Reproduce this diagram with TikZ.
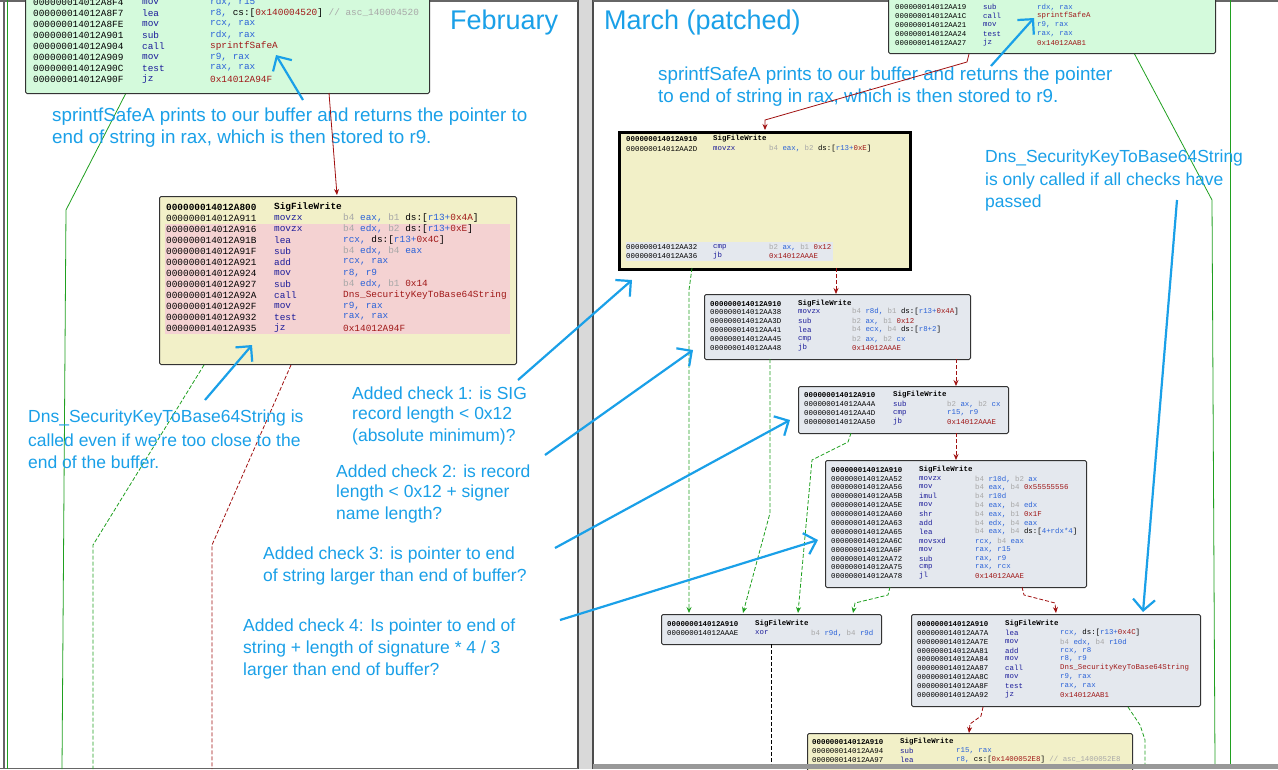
\documentclass[tikz,border=0pt]{standalone}
\usepackage{fontspec}
\setmainfont{Liberation Sans}
\newfontfamily\codef{Liberation Mono}
\usetikzlibrary{arrows.meta}
\definecolor{cgray}{HTML}{A8A8A8}
\definecolor{cred}{HTML}{A01818}
\definecolor{cmn}{HTML}{1C1C9A}
\definecolor{cop}{HTML}{2A62D8}
\definecolor{ann}{HTML}{1AA0E8}
\definecolor{fgreen}{HTML}{D4FADC}
\definecolor{fyellow}{HTML}{F2F0C8}
\definecolor{fgrayb}{HTML}{E4E8EE}
\definecolor{fpink}{HTML}{F4D2D2}
\definecolor{lgreen}{HTML}{20A020}
\definecolor{lred}{HTML}{A01010}
\newcommand\G[1]{\textcolor{cgray}{#1}}
\newcommand\R[1]{\textcolor{cred}{#1}}
\newcommand\K[1]{\textcolor{black}{#1}}
\def\codefont{\codef\fontsize{9.4}{10}\selectfont}
\newcommand\clrow[4]{\node[code,text=black] at (\xa,#1) {#2};\node[code,text=cmn] at (\xb,#1) {#3};\node[code,text=cop] at (\xc,#1) {#4};}
\newcommand\clhead[3]{\node[code,text=black,font=\codefont\bfseries] at (\xa,#1) {#2};\node[code,text=black,font=\codefont\bfseries] at (\xb,#1) {#3};}
\begin{document}
\begin{tikzpicture}[x=1pt,y=-1pt,
  code/.style={anchor=west,inner sep=0pt,font=\codefont},
  blk/.style={draw=black!80,line width=1pt,rounded corners=1.5pt},
  annot/.style={anchor=west,inner sep=0pt,text=ann,font=\fontsize{17.5}{20}\selectfont},
  bigannot/.style={annot,font=\fontsize{18.8}{21}\selectfont},
  barrow/.style={draw=ann,line width=2.2pt,-{Straight Barb[length=11pt,width=22pt]}},
  gl/.style={draw=lgreen,line width=0.8pt},
  gd/.style={draw=lgreen,line width=0.8pt,dash pattern=on 4pt off 2pt,-{Stealth[length=6pt,width=5pt]}},
  rd/.style={draw=lred,line width=0.8pt,dash pattern=on 4pt off 2pt,-{Stealth[length=6pt,width=5pt]}},
  rl/.style={draw=lred,line width=0.8pt,-{Stealth[length=6pt,width=5pt]}}]
\useasboundingbox (0,0) rectangle (1278,769);
\clip (0,0) rectangle (1278,769);
\fill[white] (0,0) rectangle (1278,769);
% panel frames
\fill[black!15] (578,0) rectangle (593,769);
\draw[black!70,line width=1.2pt] (578,0) -- (578,769) (593,0) -- (593,769);
\draw[black!60,line width=2pt] (0,1) -- (578,1) (593,1)--(1278,1);
\draw[black!60,line width=1.5pt] (4,0) -- (4,769);
\draw[black!60,line width=1pt] (0,768) -- (578,768);
%================ FEBRUARY =================
\draw[gl] (7,0) -- (7,769);
\draw[gl] (126,93) -- (66,210) -- (62,769);
\node[blk,fill=fgreen,minimum width=404pt,minimum height=103pt,anchor=north west] (fa) at (25,-10) {};
\def\xa{33}\def\xb{142}\def\xc{210}
\clrow{2}{000000014012A8F4}{mov}{rdx, r15}
\clrow{13}{000000014012A8F7}{lea}{r8, \K{cs:[}\R{0x140004520}\K{]} \G{// asc\_140004520}}
\clrow{24}{000000014012A8FE}{mov}{rcx, rax}
\clrow{35}{000000014012A901}{sub}{rdx, rax}
\clrow{46}{000000014012A904}{call}{\R{sprintfSafeA}}
\clrow{57}{000000014012A909}{mov}{r9, rax}
\clrow{68}{000000014012A90C}{test}{rax, rax}
\clrow{79}{000000014012A90F}{jz}{\R{0x14012A94F}}
\node[annot,font=\fontsize{27}{29}\selectfont] (feb) at (450,23) {February};
\node[bigannot] (fn1) at (52,117) {sprintfSafeA prints to our buffer and returns the pointer to};
\node[bigannot] (fn2) at (52,139) {end of string in rax, which is then stored to r9.};
\node[blk,fill=fyellow,minimum width=357pt,minimum height=168pt,anchor=north west] (fb) at (159,196) {};
\fill[fpink] (165,224) rectangle (510,334);
\draw[rl] (329,93) -- (337,195);
\def\xa{166}\def\xb{274}\def\xc{343}
\clhead{207}{000000014012A800}{SigFileWrite}
\clrow{218}{000000014012A911}{movzx}{\G{b4} eax, \G{b1} \K{ds:[}r13+\R{0x4A}\K{]}}
\clrow{229}{000000014012A916}{movzx}{\G{b4} edx, \G{b2} \K{ds:[}r13+\R{0xE}\K{]}}
\clrow{240}{000000014012A91B}{lea}{rcx, \K{ds:[}r13+\R{0x4C}\K{]}}
\clrow{251}{000000014012A91F}{sub}{\G{b4} edx, \G{b4} eax}
\clrow{262}{000000014012A921}{add}{rcx, rax}
\clrow{273}{000000014012A924}{mov}{r8, r9}
\clrow{284}{000000014012A927}{sub}{\G{b4} edx, \G{b1} \R{0x14}}
\clrow{295}{000000014012A92A}{call}{\R{Dns\_SecurityKeyToBase64String}}
\clrow{306}{000000014012A92F}{mov}{r9, rax}
\clrow{317}{000000014012A932}{test}{rax, rax}
\clrow{328}{000000014012A935}{jz}{\R{0x14012A94F}}
\draw[gd,-] (204,365) -- (93,545) -- (93,769);
\draw[rd,-] (291,365) -- (212,545) -- (212,769);
\draw[barrow] (303,100) -- (276,55);
\draw[barrow] (205,400) -- (252,345);
\node[annot] (fd1) at (28,418) {Dns\_SecurityKeyToBase64String is};
\node[annot] (fd2) at (28,440) {called even if we're too close to the};
\node[annot] (fd3) at (28,462) {end of the buffer.};
%================ MARCH =================
\draw[gl] (1230,0) -- (1230,764);
\draw[gl] (1134,53) -- (1212,200) -- (1215,764);
\node[annot,font=\fontsize{27}{29}\selectfont] (mar) at (604,23) {March (patched)};
\def\codefont{\codef\fontsize{7.4}{8}\selectfont}
\node[blk,fill=fgreen,minimum width=327pt,minimum height=63pt,anchor=north west] (ma) at (888,-10) {};
\def\xa{895}\def\xb{983}\def\xc{1037}
\clrow{7}{000000014012AA19}{sub}{rdx, rax}
\clrow{16}{000000014012AA1C}{call}{\R{sprintfSafeA}}
\clrow{25}{000000014012AA21}{mov}{r9, rax}
\clrow{34}{000000014012AA24}{test}{rax, rax}
\clrow{43}{000000014012AA27}{jz}{\R{0x14012AAB1}}
\node[bigannot] (mn1) at (658,76) {sprintfSafeA prints to our buffer and returns the pointer};
\node[bigannot] (mn2) at (658,98) {to end of string in rax, which is then stored to r9.};
\draw[rl] (969,54) -- (967,62) -- (765,120) -- (765,130);
\draw[barrow] (991,66) -- (1034,18);
% big block
\node[draw=black,line width=2.6pt,fill=fyellow,minimum width=291pt,minimum height=137pt,anchor=north west] (mb) at (618,131) {};
\fill[fgrayb] (626,242) rectangle (833,261);
\def\xa{626}\def\xb{713}\def\xc{769}
\clhead{139}{000000014012A910}{SigFileWrite}
\clrow{149}{000000014012AA2D}{movzx}{\G{b4} eax, \G{b2} \K{ds:[}r13+\R{0xE}\K{]}}
\clrow{247}{000000014012AA32}{cmp}{\G{b2} ax, \G{b1} \R{0x12}}
\clrow{256}{000000014012AA36}{jb}{\R{0x14012AAAE}}
\node[annot] (md1) at (985,158) {Dns\_SecurityKeyToBase64String};
\node[annot] (md2) at (985,181) {is only called if all checks have};
\node[annot] (md3) at (985,203) {passed};
% block 2
\node[blk,fill=fgrayb,minimum width=266pt,minimum height=65pt,anchor=north west] (m2) at (704,294) {};
\def\xa{710}\def\xb{798}\def\xc{852}
\clhead{304}{000000014012A910}{SigFileWrite}
\clrow{312}{000000014012AA38}{movzx}{\G{b4} r8d, \G{b1} \K{ds:[}r13+\R{0x4A}\K{]}}
\clrow{321}{000000014012AA3D}{sub}{\G{b2} ax, \G{b1} \R{0x12}}
\clrow{330}{000000014012AA41}{lea}{\G{b4} ecx, \G{b4} \K{ds:[}r8+2\K{]}}
\clrow{339}{000000014012AA45}{cmp}{\G{b2} ax, \G{b2} cx}
\clrow{348}{000000014012AA48}{jb}{\R{0x14012AAAE}}
% block 3
\node[blk,fill=fgrayb,minimum width=210pt,minimum height=47pt,anchor=north west] (m3) at (798,386) {};
\def\xa{804}\def\xb{893}\def\xc{947}
\clhead{395}{000000014012A910}{SigFileWrite}
\clrow{404}{000000014012AA4A}{sub}{\G{b2} ax, \G{b2} cx}
\clrow{413}{000000014012AA4D}{cmp}{r15, r9}
\clrow{422}{000000014012AA50}{jb}{\R{0x14012AAAE}}
% block 4
\node[blk,fill=fgrayb,minimum width=261pt,minimum height=127pt,anchor=north west] (m4) at (825,460) {};
\def\xa{831}\def\xb{919}\def\xc{975}
\clhead{470}{000000014012A910}{SigFileWrite}
\clrow{479}{000000014012AA52}{movzx}{\G{b4} r10d, \G{b2} ax}
\clrow{487}{000000014012AA56}{mov}{\G{b4} eax, \G{b4} \R{0x55555556}}
\clrow{496}{000000014012AA5B}{imul}{\G{b4} r10d}
\clrow{505}{000000014012AA5E}{mov}{\G{b4} eax, \G{b4} edx}
\clrow{514}{000000014012AA60}{shr}{\G{b4} eax, \G{b1} \R{0x1F}}
\clrow{523}{000000014012AA63}{add}{\G{b4} edx, \G{b4} eax}
\clrow{532}{000000014012AA65}{lea}{\G{b4} eax, \G{b4} \K{ds:[}4+rdx*4\K{]}}
\clrow{541}{000000014012AA6C}{movsxd}{rcx, \G{b4} eax}
\clrow{550}{000000014012AA6F}{mov}{rax, r15}
\clrow{559}{000000014012AA72}{sub}{rax, r9}
\clrow{567}{000000014012AA75}{cmp}{rax, rcx}
\clrow{576}{000000014012AA78}{jl}{\R{0x14012AAAE}}
% block 5
\node[blk,fill=fgrayb,minimum width=220pt,minimum height=30pt,anchor=north west] (m5) at (661,614) {};
\def\xa{667}\def\xb{755}\def\xc{811}
\clhead{624}{000000014012A910}{SigFileWrite}
\clrow{633}{000000014012AAAE}{xor}{\G{b4} r9d, \G{b4} r9d}
% block 6
\node[blk,fill=fgrayb,minimum width=289pt,minimum height=92pt,anchor=north west] (m6) at (911,614) {};
\def\xa{917}\def\xb{1005}\def\xc{1060}
\clhead{624}{000000014012A910}{SigFileWrite}
\clrow{633}{000000014012AA7A}{lea}{rcx, \K{ds:[}r13+\R{0x4C}\K{]}}
\clrow{642}{000000014012AA7E}{mov}{\G{b4} edx, \G{b4} r10d}
\clrow{651}{000000014012AA81}{add}{rcx, r8}
\clrow{659}{000000014012AA84}{mov}{r8, r9}
\clrow{668}{000000014012AA87}{call}{\R{Dns\_SecurityKeyToBase64String}}
\clrow{677}{000000014012AA8C}{mov}{r9, rax}
\clrow{686}{000000014012AA8F}{test}{rax, rax}
\clrow{695}{000000014012AA92}{jz}{\R{0x14012AAB1}}
% block 7
\node[blk,fill=fyellow,minimum width=325pt,minimum height=60pt,anchor=north west] (m7) at (807,733) {};
\def\xa{812}\def\xb{900}\def\xc{956}
\clhead{742}{000000014012A910}{SigFileWrite}
\clrow{751}{000000014012AA94}{sub}{r15, rax}
\clrow{760}{000000014012AA97}{lea}{r8, \K{cs:[}\R{0x1400052E8}\K{]} \G{// asc\_1400052E8}}
\fill[black!40] (593,764) rectangle (1278,769);
% connectors
\draw[rd] (836,268) -- (836,294);
\draw[gd] (692,268) -- (689,290) -- (689,613);
\draw[gd] (770,359) -- (770,513) -- (743,613);
\draw[rd] (956,359) -- (956,386);
\draw[rd] (956,433) -- (956,460);
\draw[gd] (851,433) -- (848,442) -- (812,460) -- (798,613);
\draw[gd] (890,587) -- (888,595) -- (855,603) -- (853,613);
\draw[rd] (1022,587) -- (1024,595) -- (1055,603) -- (1056,613);
\draw[rd] (983,707) -- (981,716) -- (970,724) -- (969,733);
\draw[gd,-] (1128,707) -- (1140,725) -- (1145,740) -- (1145,764);
\draw[black,line width=0.8pt,dash pattern=on 4pt off 2pt] (771,644) -- (771,764);
% annotations with arrows
\draw[barrow] (1177,200) -- (1143,612);
\node[annot] (c1a) at (352,393) {Added check 1: is SIG};
\node[annot] (c1b) at (352,415) {record length < 0x12};
\node[annot] (c1c) at (352,437) {(absolute minimum)?};
\draw[barrow] (518,380) -- (632,280);
\node[annot] (c2a) at (336,471) {Added check 2: is record};
\node[annot] (c2b) at (336,493) {length < 0x12 + signer};
\node[annot] (c2c) at (336,515) {name length?};
\draw[barrow] (545,455) -- (693,350);
\node[annot] (c3a) at (263,555) {Added check 3: is pointer to end};
\node[annot] (c3b) at (263,577) {of string larger than end of buffer?};
\draw[barrow] (555,548) -- (790,420);
\node[annot] (c4a) at (243,627) {Added check 4: Is pointer to end of};
\node[annot] (c4b) at (243,649) {string + length of signature * 4 / 3};
\node[annot] (c4c) at (243,671) {larger than end of buffer?};
\draw[barrow] (560,620) -- (818,540);
\end{tikzpicture}
\end{document}
